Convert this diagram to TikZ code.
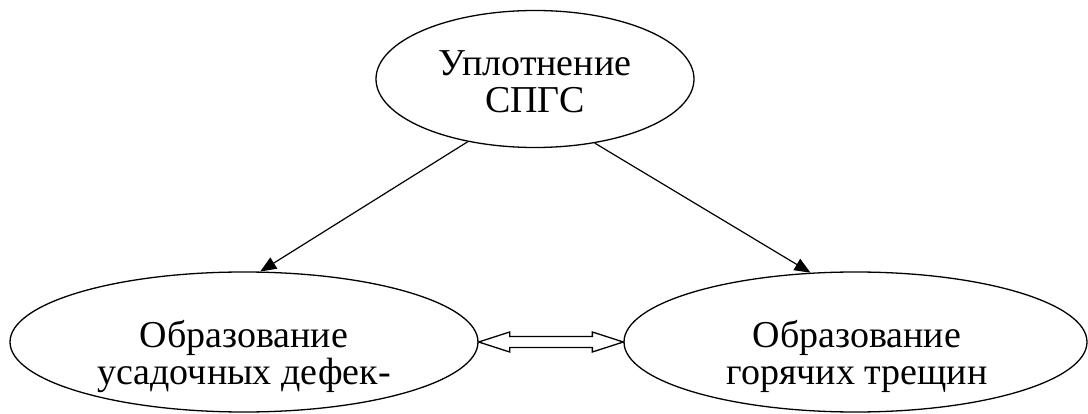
\documentclass[tikz,border=0pt]{standalone}
\usepackage{fontspec}
\setmainfont{Liberation Serif}
\usetikzlibrary{shapes.geometric,arrows.meta,calc}
\begin{document}
\begin{tikzpicture}[x=1pt,y=-1pt,
  oval/.style={draw,ellipse,line width=1.3pt,inner sep=0pt},
  lbl/.style={align=center,inner sep=0pt,font=\fontsize{38}{37}\selectfont},
  conn/.style={line width=1.2pt,-{Triangle[length=16pt,width=13pt]}},
  dbl/.style={line width=1.3pt,fill=white,line join=miter}]
\useasboundingbox (0,0) rectangle (1088,414);
\node[oval,minimum width=318pt,minimum height=137pt] (top) at (535,79) {};
\node[oval,minimum width=468pt,minimum height=140pt] (left) at (244,342) {};
\node[oval,minimum width=463pt,minimum height=140pt] (right) at (855.5,342) {};
\node[lbl] (ttop) at (535,81.5) {Уплотнение\\СПГС};
\node[lbl] (tleft) at (244,356.5) {Образование\\усадочных дефек-};
\node[lbl] (tright) at (857,356.5) {Образование\\горячих трещин};
\draw[conn] (top.223) -- (left.77);
\draw[conn] (top.313) -- (right.123);
\draw[dbl] (left.east) -- ($(left.east)+(31,-10)$) -- ($(left.east)+(31,-5.5)$)
  -- ($(right.west)+(-31,-5.5)$) -- ($(right.west)+(-31,-10)$) -- (right.west)
  -- ($(right.west)+(-31,10)$) -- ($(right.west)+(-31,5.5)$)
  -- ($(left.east)+(31,5.5)$) -- ($(left.east)+(31,10)$) -- cycle;
\end{tikzpicture}
\end{document}
